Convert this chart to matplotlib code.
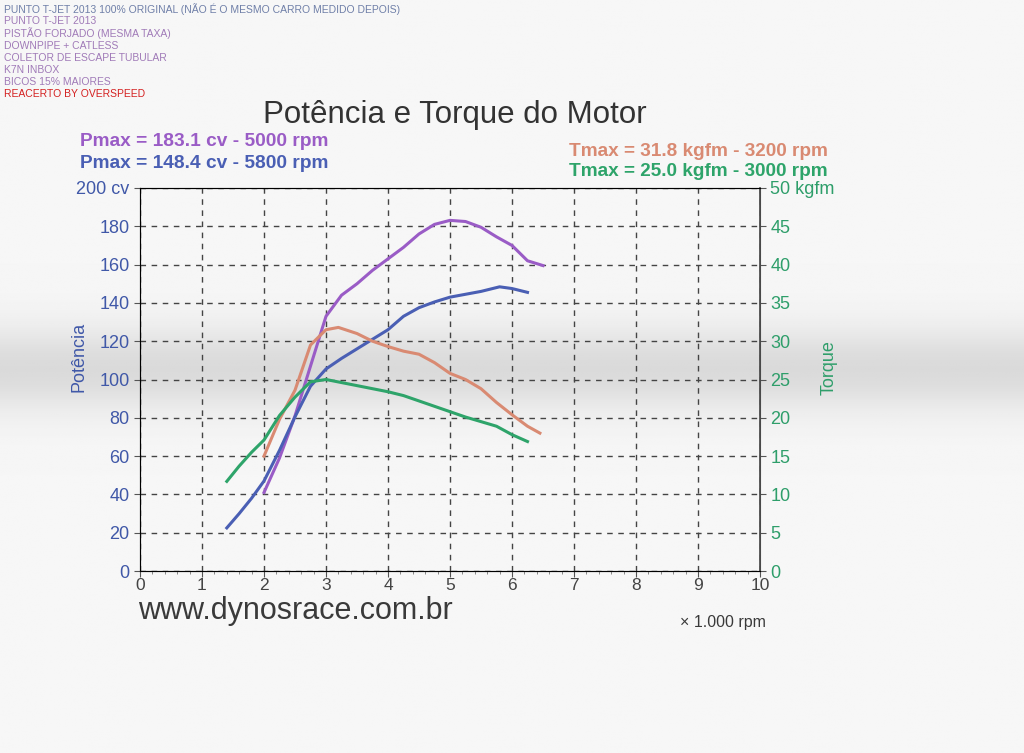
import numpy as np
import matplotlib
matplotlib.use("Agg")
import matplotlib.pyplot as plt
from matplotlib.ticker import MultipleLocator

plt.rcParams['font.family'] = ['Liberation Sans', 'DejaVu Sans']

# header notes
notes = ["PUNTO T-JET 2013 100% ORIGINAL (NÃO É O MESMO CARRO MEDIDO DEPOIS)",
         "PUNTO T-JET 2013",
         "PISTÃO FORJADO (MESMA TAXA)",
         "DOWNPIPE + CATLESS",
         "COLETOR DE ESCAPE TUBULAR",
         "K7N INBOX",
         "BICOS 15% MAIORES",
         "REACERTO BY OVERSPEED"]
note_colors = ["#6f7fa8"] + ["#a07ab8"] * 6 + ["#d42020"]

# power, modified car (cv)
rpm_pw_mod = [2.0, 2.25, 2.5, 2.75, 3.0, 3.25, 3.5, 3.75, 4.0, 4.25, 4.5, 4.75,
              5.0, 5.25, 5.5, 5.75, 6.0, 6.25, 6.5]
pw_mod = [41, 59, 81, 107, 133, 144, 150, 157, 163, 169, 176, 181,
          183.1, 182.5, 179.5, 174.5, 170, 162, 159.5]

# power, original car (cv)
rpm_pw_orig = [1.4, 1.6, 1.8, 2.0, 2.25, 2.5, 2.75, 3.0, 3.25, 3.5, 3.75, 4.0,
               4.25, 4.5, 4.75, 5.0, 5.25, 5.5, 5.8, 6.0, 6.25]
pw_orig = [22.5, 30, 38, 47, 63, 80.5, 96.5, 105.5, 111, 116, 121, 126,
           133, 137.5, 140.5, 143, 144.5, 146, 148.4, 147.5, 145.5]

# torque, modified car (kgfm)
rpm_tq_mod = [2.0, 2.25, 2.5, 2.75, 3.0, 3.2, 3.5, 3.75, 4.0, 4.25, 4.5, 4.75,
              5.0, 5.25, 5.5, 5.75, 6.0, 6.25, 6.45]
tq_mod = [15, 19.8, 23.6, 29.5, 31.5, 31.8, 31.0, 30.0, 29.3, 28.7, 28.3, 27.2,
          25.8, 25.0, 23.8, 22.0, 20.4, 18.9, 18.0]

# torque, original car (kgfm)
rpm_tq_orig = [1.4, 1.6, 1.8, 2.0, 2.25, 2.5, 2.75, 3.0, 3.25, 3.5, 3.75, 4.0,
               4.25, 4.5, 4.75, 5.0, 5.25, 5.5, 5.75, 6.0, 6.25]
tq_orig = [11.7, 13.7, 15.5, 17.1, 20.3, 22.7, 24.7, 25.0, 24.6, 24.2, 23.8, 23.4,
           22.9, 22.2, 21.5, 20.8, 20.1, 19.5, 18.9, 17.8, 16.9]

c_purple = "#9a5cc6"
c_blue = "#4a5fb4"
c_orange = "#d98a72"
c_green = "#2ea46a"
c_axis_l = "#4058a8"
c_axis_r = "#2e9e6a"

fig = plt.figure(figsize=(10.24, 7.53), dpi=100)

# scanned paper background with the darker fold band
bg = fig.add_axes([0, 0, 1, 1], zorder=-10)
rows = np.linspace(0, 1, 400)
band = 0.965 - 0.11 * np.exp(-((rows - 0.49) / 0.055) ** 2)
bg.imshow(np.tile(band[:, None], (1, 10)), cmap="gray", vmin=0, vmax=1,
          aspect="auto", extent=[0, 1, 0, 1], origin="upper")
bg.axis("off")

ax = fig.add_axes([140 / 1024, 1 - 571 / 753, 620 / 1024, 383 / 753])
ax.patch.set_alpha(0)
ax.set_xlim(0, 10)
ax.set_ylim(0, 200)
ax.xaxis.set_major_locator(MultipleLocator(1))
ax.xaxis.set_minor_locator(MultipleLocator(0.2))
ax.grid(True, which="major", linestyle=(0, (4, 4)), color="#444444", linewidth=1)
for s in ["top", "right"]:
    ax.spines[s].set_color("#666666")
    ax.spines[s].set_linewidth(0.8)
for s in ["left", "bottom"]:
    ax.spines[s].set_color("#555555")

ax.plot(rpm_pw_mod, pw_mod, color=c_purple, lw=2.2)
ax.plot(rpm_pw_orig, pw_orig, color=c_blue, lw=2.2)

ax2 = ax.twinx()
ax2.set_ylim(0, 50)
ax2.plot(rpm_tq_mod, tq_mod, color=c_orange, lw=2.2)
ax2.plot(rpm_tq_orig, tq_orig, color=c_green, lw=2.2)
ax2.spines["right"].set_color("#444444")
ax2.spines["right"].set_linewidth(1.2)

ax.set_yticks(range(0, 201, 20))
ax.set_yticklabels([str(v) for v in range(0, 200, 20)] + ["200 cv"])
ax.tick_params(axis="y", colors="#555555", labelcolor=c_axis_l, labelsize=13, length=4)
ax.tick_params(axis="x", which="major", colors="#555555", labelcolor="#444444",
               labelsize=12.5, length=4, pad=1)
ax.tick_params(axis="x", which="minor", colors="#777777", length=2)
ax2.set_yticks(range(0, 51, 5))
ax2.set_yticklabels([str(v) for v in range(0, 50, 5)] + ["50 kgfm"])
ax2.tick_params(axis="y", colors="#555555", labelcolor=c_axis_r, labelsize=13, length=4)

ax.set_ylabel("Potência", color=c_axis_l, fontsize=13)
ax.yaxis.set_label_coords(-0.085, 0.56)
ax2.set_ylabel("Torque", color=c_axis_r, fontsize=13)
ax2.yaxis.set_label_coords(1.097, 0.53)

# texts on the sheet
for i, (t, c) in enumerate(zip(notes, note_colors)):
    fig.text(4 / 1024, 1 - (9 + i * 12.2) / 753, t, color=c, fontsize=7.5,
             va="center", ha="left")

fig.text(455 / 1024, 1 - 115 / 753, "Potência e Torque do Motor", fontsize=22.5,
         color="#333333", ha="center", va="center")
fig.text(80 / 1024, 1 - 141 / 753, "Pmax = 183.1 cv - 5000 rpm", fontsize=13.8,
         color=c_purple, fontweight="bold", ha="left", va="center")
fig.text(80 / 1024, 1 - 163 / 753, "Pmax = 148.4 cv - 5800 rpm", fontsize=13.8,
         color=c_blue, fontweight="bold", ha="left", va="center")
fig.text(828 / 1024, 1 - 152 / 753, "Tmax = 31.8 kgfm - 3200 rpm", fontsize=13.7,
         color=c_orange, fontweight="bold", ha="right", va="center")
fig.text(828 / 1024, 1 - 171 / 753, "Tmax = 25.0 kgfm - 3000 rpm", fontsize=13.7,
         color=c_green, fontweight="bold", ha="right", va="center")
fig.text(138 / 1024, 1 - 611 / 753, "www.dynosrace.com.br", fontsize=22,
         color="#3a3a3a", ha="left", va="center")
fig.text(766 / 1024, 1 - 622 / 753, "× 1.000 rpm", fontsize=11.5,
         color="#3a3a3a", ha="right", va="center")

fig.savefig("out.png", dpi=100)
